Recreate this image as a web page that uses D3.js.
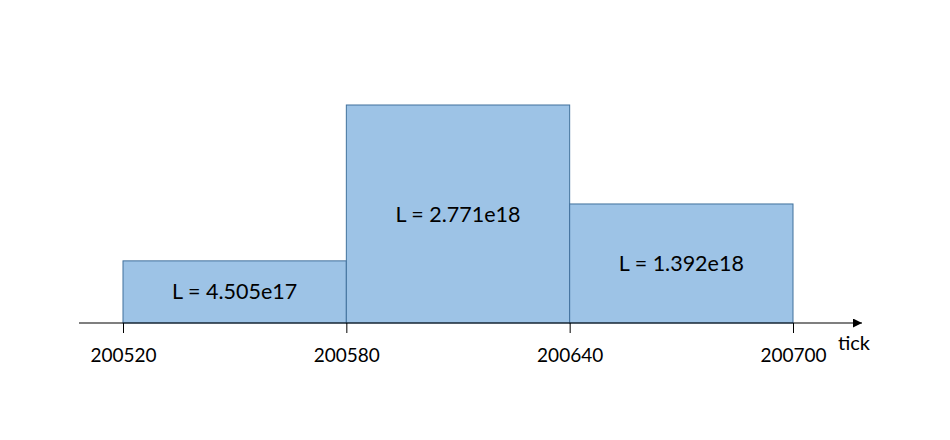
<!DOCTYPE html>
<html>
<head>
<meta charset="utf-8">
<script src="https://cdn.jsdelivr.net/npm/d3@7"></script>
<style>
  body { margin: 0; background: #fff; }
  svg text { font-family: Lato, "Open Sans", sans-serif; fill: #000; }
</style>
</head>
<body>
<div id="chart"></div>
<script>
// tick boundaries of each range, and the liquidity label of that range
var tickEdges = [200520, 200580, 200640, 200700];
var liquidity = ["4.505e17", "2.771e18", "1.392e18"];
// bar height as drawn (relative, tallest = 1)
var barLevel = [0.285, 1, 0.546];

var svgWidth = 950, svgHeight = 440;
var baseY = 323;

var svg = d3.select("#chart").append("svg")
    .attr("width", svgWidth).attr("height", svgHeight);

var x = d3.scaleLinear().domain([tickEdges[0], tickEdges[tickEdges.length - 1]]).range([123, 793]);
var y = d3.scaleLinear().domain([0, 1]).range([baseY, 105]);

// arrow head for the axis
svg.append("defs").append("marker")
    .attr("id", "arrow")
    .attr("viewBox", "0 0 10 10")
    .attr("refX", 10).attr("refY", 5)
    .attr("markerWidth", 12).attr("markerHeight", 9)
    .attr("markerUnits", "userSpaceOnUse")
    .attr("orient", "auto")
  .append("path")
    .attr("d", "M0,0 L10,5 L0,10 Z")
    .attr("fill", "#000");

// bars
var ranges = liquidity.map(function(l, i) {
    return {x0: tickEdges[i], x1: tickEdges[i + 1], level: barLevel[i], label: "L = " + l};
});

svg.selectAll("rect.bar").data(ranges).enter().append("rect")
    .attr("class", "bar")
    .attr("x", function(d) { return x(d.x0); })
    .attr("y", function(d) { return y(d.level); })
    .attr("width", function(d) { return x(d.x1) - x(d.x0); })
    .attr("height", function(d) { return y(0) - y(d.level); })
    .attr("fill", "#9dc3e6")
    .attr("stroke", "#41719c")
    .attr("stroke-width", 1);

svg.selectAll("text.lbl").data(ranges).enter().append("text")
    .attr("class", "lbl")
    .attr("x", function(d) { return (x(d.x0) + x(d.x1)) / 2; })
    .attr("y", function(d) { return (y(d.level) + y(0)) / 2; })
    .attr("text-anchor", "middle")
    .attr("dy", ".35em")
    .style("font-size", "21.5px")
    .text(function(d) { return d.label; });

// axis line with arrow
svg.append("line")
    .attr("x1", 79).attr("x2", 862)
    .attr("y1", baseY).attr("y2", baseY)
    .attr("stroke", "#000").attr("stroke-width", 1.2)
    .attr("marker-end", "url(#arrow)");

var axis = d3.axisBottom(x)
    .tickValues(tickEdges)
    .tickFormat(d3.format("d"))
    .tickSize(10)
    .tickPadding(16);

var gAxis = svg.append("g")
    .attr("transform", "translate(0," + baseY + ")")
    .call(axis);
gAxis.select(".domain").remove();
gAxis.selectAll(".tick line").attr("stroke", "#000");
gAxis.selectAll(".tick text")
    .style("font-size", "19px")
    .attr("fill", "#000");

svg.append("text")
    .attr("x", 838)
    .attr("y", 350)
    .style("font-size", "20px")
    .text("tick");
</script>
</body>
</html>
